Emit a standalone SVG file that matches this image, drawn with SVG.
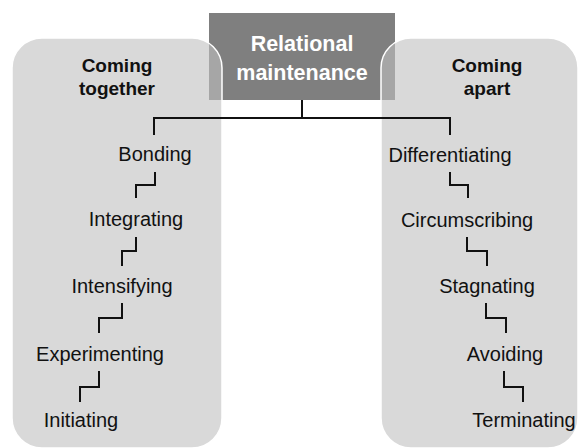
<svg xmlns="http://www.w3.org/2000/svg" width="579" height="448" viewBox="0 0 579 448">
<style>
.panel{fill:#c0c0c0;fill-opacity:0.6;stroke:#ffffff;stroke-width:1.5}
.hdr{font-family:"Liberation Sans",Arial,sans-serif;font-weight:bold;font-size:19px;fill:#111;text-anchor:middle}
.lbl{font-family:"Liberation Sans",Arial,sans-serif;font-size:20px;fill:#111;text-anchor:middle}
.ttl{font-family:"Liberation Sans",Arial,sans-serif;font-weight:bold;font-size:21.5px;fill:#ffffff;text-anchor:middle}
.con{fill:none;stroke:#111;stroke-width:2}
</style>
<rect width="579" height="448" fill="#ffffff"/>
<g id="root">
<rect x="209" y="13" width="186" height="87" fill="#7f7f7f"/>
<text class="ttl" x="302" y="51">Relational</text>
<text class="ttl" x="302" y="80">maintenance</text>
</g>
<g id="coming-together">
<rect class="panel" x="12" y="38" width="210" height="410" rx="30" ry="30"/>
<text class="hdr" x="117" y="72">Coming</text>
<text class="hdr" x="117" y="95">together</text>
</g>
<g id="coming-apart">
<rect class="panel" x="381" y="38" width="197" height="410" rx="30" ry="30"/>
<text class="hdr" x="487" y="72">Coming</text>
<text class="hdr" x="487" y="95">apart</text>
</g>
<g id="connectors">
<path class="con" d="M302 100V118M154 135V118H450V135"/>
<path class="con" d="M155 172V185H136V198"/>
<path class="con" d="M136 237V251H122V266"/>
<path class="con" d="M122 303V318H99V333"/>
<path class="con" d="M99 371V387H80V402"/>
<path class="con" d="M450 172V185H468V198"/>
<path class="con" d="M467 237V251H487V266"/>
<path class="con" d="M486 303V318H506V333"/>
<path class="con" d="M504 371V387H523V402"/>
</g>
<g id="bonding"><text class="lbl" x="155" y="161">Bonding</text></g>
<g id="integrating"><text class="lbl" x="136" y="226">Integrating</text></g>
<g id="intensifying"><text class="lbl" x="122" y="293">Intensifying</text></g>
<g id="experimenting"><text class="lbl" x="100" y="361">Experimenting</text></g>
<g id="initiating"><text class="lbl" x="81" y="427">Initiating</text></g>
<g id="differentiating"><text class="lbl" x="450" y="162">Differentiating</text></g>
<g id="circumscribing"><text class="lbl" x="467" y="227">Circumscribing</text></g>
<g id="stagnating"><text class="lbl" x="487" y="293">Stagnating</text></g>
<g id="avoiding"><text class="lbl" x="505" y="361">Avoiding</text></g>
<g id="terminating"><text class="lbl" x="524" y="427">Terminating</text></g>
</svg>
